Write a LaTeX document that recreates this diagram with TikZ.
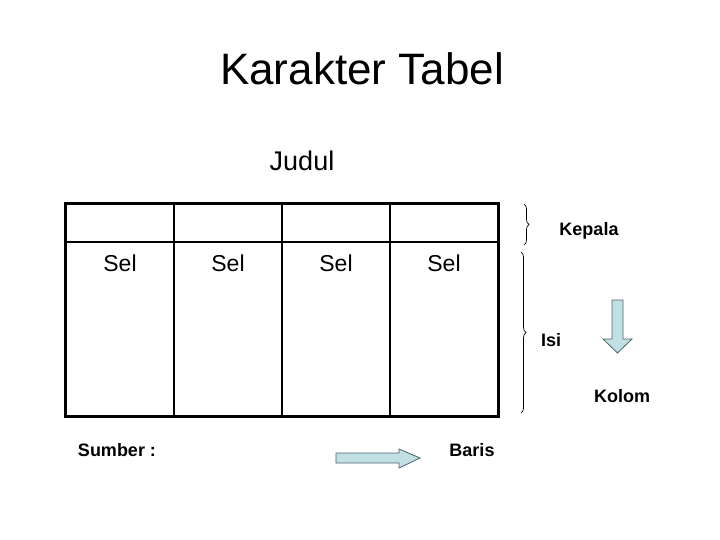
\documentclass[tikz,border=0pt]{standalone}
\usepackage{fontspec}
\setmainfont{Liberation Sans}
\usetikzlibrary{decorations.pathreplacing}
\definecolor{arrowfill}{RGB}{192,224,228}
\definecolor{arrowline}{RGB}{80,100,104}
\tikzset{
  lbl/.style={font=\fontsize{18}{20}\selectfont\bfseries, inner sep=0pt},
  sel/.style={font=\fontsize{23}{26}\selectfont, inner sep=0pt},
  brc/.style={decorate, decoration={brace, amplitude=5pt}, line width=0.7pt},
  fatarrow/.style={fill=arrowfill, draw=arrowline, line width=0.8pt, line join=miter},
  outer/.style={line width=3pt},
  inner/.style={line width=2pt}
}
\begin{document}
\begin{tikzpicture}[x=1pt,y=-1pt]
\useasboundingbox (0,0) rectangle (720,540);
\fill[white] (0,0) rectangle (720,540);
% title
\node[font=\fontsize{44}{50}\selectfont, inner sep=0pt] (title) at (362,69) {Karakter Tabel};
\node[font=\fontsize{27}{30}\selectfont, inner sep=0pt] (judul) at (302,161) {Judul};
% table
\draw[inner] (65,242) -- (498,242);
\draw[inner] (174,204) -- (174,416);
\draw[inner] (282,204) -- (282,416);
\draw[inner] (390,204) -- (390,416);
\draw[outer] (65,204) rectangle (498,416);
\node[sel] (s1) at (120,263) {Sel};
\node[sel] (s2) at (228,263) {Sel};
\node[sel] (s3) at (336,263) {Sel};
\node[sel] (s4) at (444,263) {Sel};
% braces
\draw[brc] (524,204) -- (524,245);
\draw[brc] (521,252) -- (521,413);
\node[lbl] (kepala) at (589,231) {Kepala};
\node[lbl] (isi) at (551,340) {Isi};
\node[lbl] (kolom) at (622,396) {Kolom};
% down arrow
\draw[fatarrow] (612,300) -- (623,300) -- (623,339) -- (632,339) -- (617.5,353) -- (603,339) -- (612,339) -- cycle;
% right arrow
\draw[fatarrow] (336,453) -- (399,453) -- (399,449) -- (420,458) -- (399,468) -- (399,463) -- (336,463) -- cycle;
\node[lbl] (sumber) at (117,450) {Sumber :};
\node[lbl] (baris) at (472,450) {Baris};
\end{tikzpicture}
\end{document}
